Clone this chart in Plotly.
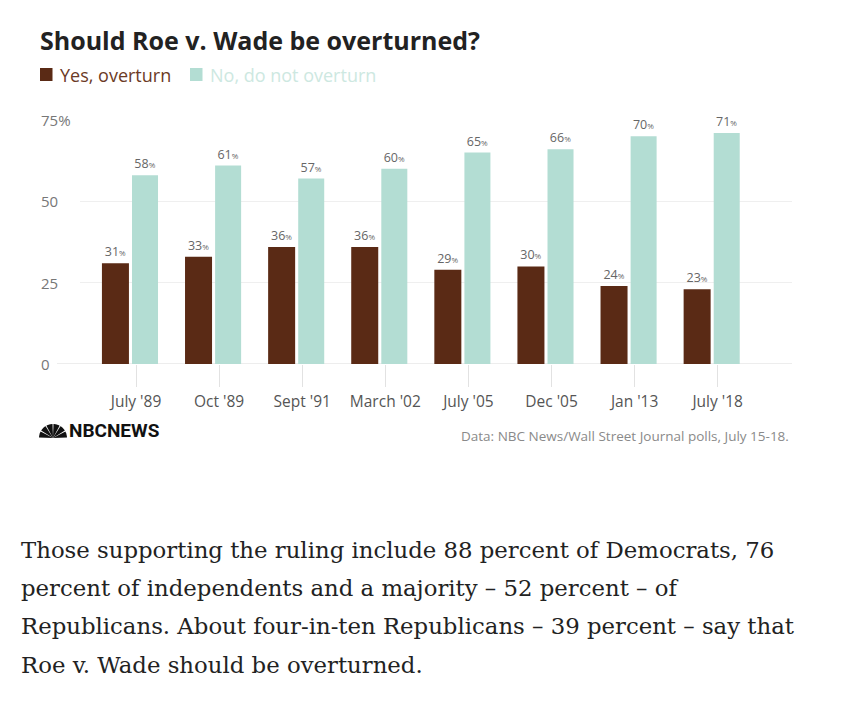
import math
import plotly.graph_objects as go

# ---- data ----
categories = ["July '89", "Oct '89", "Sept '91", "March '02", "July '05", "Dec '05", "Jan '13", "July '18"]
yes_overturn = [31, 33, 36, 36, 29, 30, 24, 23]
no_not_overturn = [58, 61, 57, 60, 65, 66, 70, 71]
y_tick_vals = [0, 25, 50, 75]
y_tick_text = ["0", "25", "50", "75%"]
body_lines = [
    "Those supporting the ruling include 88 percent of Democrats, 76",
    "percent of independents and a majority \u2013 52 percent \u2013 of",
    "Republicans. About four-in-ten Republicans \u2013 39 percent \u2013 say that",
    "Roe v. Wade should be overturned.",
]

BROWN = "#5a2a15"
TEAL = "#b3ddd3"
SANS = "Open Sans, sans-serif"
W, H = 844, 716
OFF = 8               # page body margin
X0, X1 = 80, 792      # plot area in reference pixels
Y0, Y1 = 364, 120     # bottom, top

def px(x):
    return (x - X0) / (X1 - X0)

def py(y):
    return (Y0 - y) / (Y0 - Y1)

def pct_text(v):
    return f"{v}<span style='font-size:8px'>%</span>"

fig = go.Figure()
fig.add_trace(go.Bar(
    x=categories, y=yes_overturn, name="Yes, overturn",
    marker=dict(color=BROWN, line=dict(width=0)),
    offset=-0.41, width=0.325,
    text=[pct_text(v) for v in yes_overturn], textposition="outside",
    textfont=dict(family=SANS, size=12.5, color="#666666"),
    constraintext="none", cliponaxis=False, showlegend=False,
))
fig.add_trace(go.Bar(
    x=categories, y=no_not_overturn, name="No, do not overturn",
    marker=dict(color=TEAL, line=dict(width=0)),
    offset=-0.048, width=0.313,
    text=[pct_text(v) for v in no_not_overturn], textposition="outside",
    textfont=dict(family=SANS, size=12.5, color="#666666"),
    constraintext="none", cliponaxis=False, showlegend=False,
))

unit = 83.1
xr0 = (X0 - 136) / unit
xr1 = (X1 - 136) / unit

shapes = []
annotations = []

# zero line extending left of plot
shapes.append(dict(type="line", xref="paper", yref="y", x0=px(57), x1=1, y0=0, y1=0,
                   line=dict(color="#dcdcdc", width=1.2), layer="below"))

# y tick labels (left aligned)
for v, t in zip(y_tick_vals, y_tick_text):
    annotations.append(dict(xref="paper", yref="y", x=px(39), y=v, text=t, showarrow=False,
                            xanchor="left", yanchor="middle",
                            font=dict(family=SANS, size=15, color="#777777")))

# title
annotations.append(dict(xref="paper", yref="paper", x=px(38), y=py(40), text="<b>Should Roe v. Wade be overturned?</b>",
                        showarrow=False, xanchor="left", yanchor="middle",
                        font=dict(family=SANS, size=25, color="#222222")))

# legend
shapes.append(dict(type="rect", xref="paper", yref="paper", x0=px(40), x1=px(52.5), y0=py(68), y1=py(81),
                   fillcolor=BROWN, line=dict(width=0)))
annotations.append(dict(xref="paper", yref="paper", x=px(58), y=py(75), text="Yes, overturn",
                        showarrow=False, xanchor="left", yanchor="middle",
                        font=dict(family=SANS, size=18, color="#6b3a25")))
shapes.append(dict(type="rect", xref="paper", yref="paper", x0=px(190), x1=px(202.5), y0=py(68), y1=py(81),
                   fillcolor=TEAL, line=dict(width=0)))
annotations.append(dict(xref="paper", yref="paper", x=px(208), y=py(75), text="No, do not overturn",
                        showarrow=False, xanchor="left", yanchor="middle",
                        font=dict(family=SANS, size=18, color="#cde8e1")))

# NBC peacock (six wedges)
cx, cy, r = 53, 438, 14
for k in range(6):
    a0 = math.radians(180 - k * 30 - 2)
    a1 = math.radians(180 - (k + 1) * 30 + 2)
    pts = [(cx, cy)]
    for j in range(9):
        a = a0 + (a1 - a0) * j / 8
        pts.append((cx + r * math.cos(a), cy - r * math.sin(a)))
    path = "M " + " L ".join(f"{px(x):.5f},{py(y):.5f}" for x, y in pts) + " Z"
    shapes.append(dict(type="path", xref="paper", yref="paper", path=path,
                       fillcolor="#111111", line=dict(width=0)))
annotations.append(dict(xref="paper", yref="paper", x=px(67), y=py(430), text="<b>NBCNEWS</b>",
                        showarrow=False, xanchor="left", yanchor="middle",
                        font=dict(family="Liberation Sans Narrow, Roboto, sans-serif", size=19, color="#111111")))

# source
annotations.append(dict(xref="paper", yref="paper", x=px(791), y=py(436),
                        text="Data: NBC News/Wall Street Journal polls, July 15-18.",
                        showarrow=False, xanchor="right", yanchor="middle",
                        font=dict(family=SANS, size=13.5, color="#8a8a8a")))

# body text
for i, line in enumerate(body_lines):
    annotations.append(dict(xref="paper", yref="paper", x=px(19), y=py(550 + i * 38.2), text=line,
                            showarrow=False, xanchor="left", yanchor="middle",
                            font=dict(family="DejaVu Serif, serif", size=22.8, color="#222222")))

fig.update_layout(
    width=W, height=H,
    margin=dict(l=X0 - OFF, r=W - (X1 - OFF), t=Y1 - OFF, b=H - (Y0 - OFF), pad=0),
    paper_bgcolor="white", plot_bgcolor="white",
    barmode="overlay",
    shapes=shapes, annotations=annotations,
    xaxis=dict(type="category", range=[xr0, xr1], showgrid=False, zeroline=False, showline=False,
               ticks="outside", ticklen=22, tickcolor="#e2e2e2", tickwidth=1,
               tickfont=dict(family=SANS, size=15.5, color="#555555"),
               ticklabelstandoff=1, fixedrange=True),
    yaxis=dict(range=[0, 75], tickvals=y_tick_vals, showticklabels=False, showgrid=True,
               gridcolor="#efefef", gridwidth=1, zeroline=False, showline=False, fixedrange=True),
)

fig.write_html("out.html")
